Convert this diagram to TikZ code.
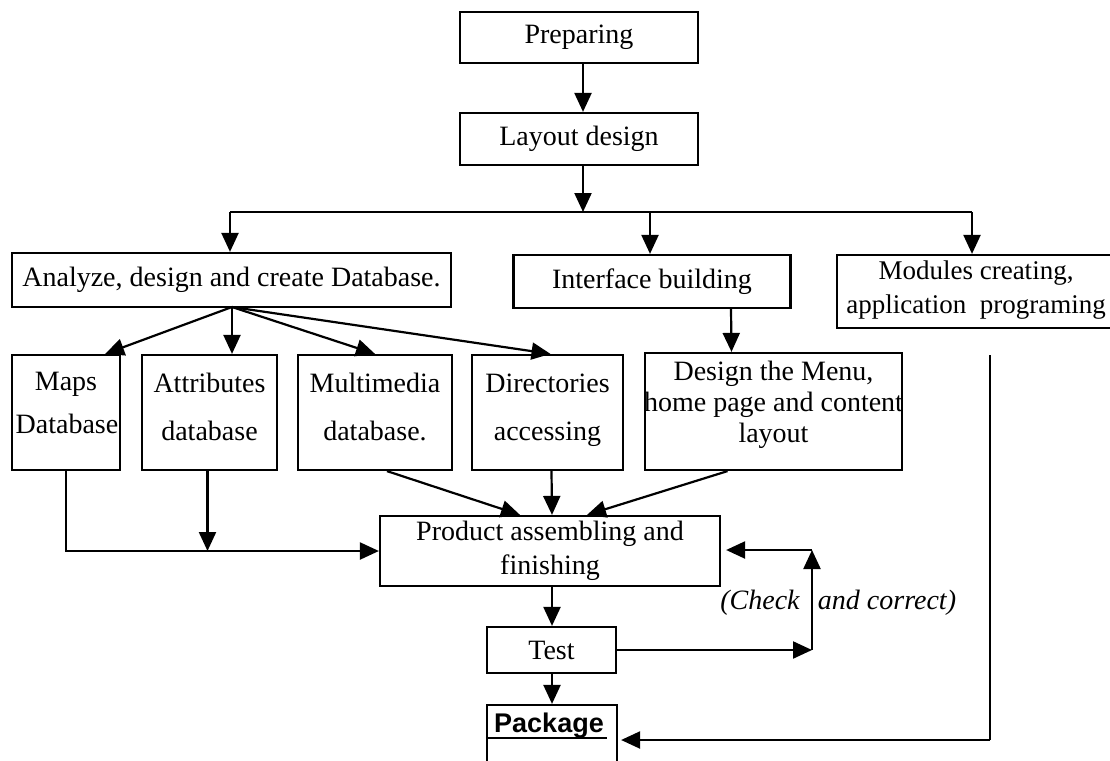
\documentclass[tikz,border=0pt]{standalone}
\usepackage{fontspec}
\setmainfont{Liberation Serif}
\newfontfamily\pkgfont{Liberation Sans}
\usetikzlibrary{arrows.meta}
\newcommand\fz{\fontsize{28}{34}\selectfont}
\tikzset{
  box/.style={draw, line width=2.2pt, inner sep=0pt, font=\fz},
  txt/.style={inner sep=0pt, font=\fz},
  arr/.style={line width=2.2pt, -{Triangle[length=19pt,width=17pt]}},
  ln/.style={line width=2.2pt},
}
\begin{document}
\begin{tikzpicture}[x=1pt,y=-1pt]
\useasboundingbox (0,0) rectangle (1110,760);
% top
\node[box, minimum width=238, minimum height=51] (prep) at (579,37.5) {Preparing};
\node[box, minimum width=238, minimum height=52] (layout) at (579,139) {Layout design};
% second row
\node[box, minimum width=439, minimum height=54] (analyze) at (231.5,280) {Analyze, design and create Database.};
\node[box, minimum width=277, minimum height=53] (iface) at (652,281.5) {Interface building};
\node[box, minimum width=284, minimum height=73] (mod) at (979,291.5) {};
\node[txt, font=\fontsize{27}{34}\selectfont, align=center] (modT) at (976,290) {Modules creating,\\application\ \ programing};
% third row
\node[box, minimum width=108, minimum height=115] (maps) at (66,412.5) {};
\node[box, minimum width=135, minimum height=115] (attr) at (209.5,412.5) {};
\node[box, minimum width=154, minimum height=115] (mm) at (375,412.5) {};
\node[box, minimum width=151, minimum height=115] (dir) at (547.5,412.5) {};
\node[box, minimum width=257, minimum height=117] (design) at (773.5,411.5) {};
\node[txt, anchor=base] (mapsA) at (66,390) {Maps};
\node[txt, anchor=base] (mapsB) at (67,433) {Database};
\node[txt, anchor=base] (attrA) at (209.5,392) {Attributes};
\node[txt, anchor=base] (attrB) at (209.5,440) {database};
\node[txt, anchor=base] (mmA) at (375,392) {Multimedia};
\node[txt, anchor=base] (mmB) at (375,440) {database.};
\node[txt, anchor=base] (dirA) at (547.5,392) {Directories};
\node[txt, anchor=base] (dirB) at (547.5,440) {accessing};
\node[txt, anchor=base] (desA) at (773.5,380) {Design the Menu,};
\node[txt, anchor=base] (desB) at (773.5,411) {home page and content};
\node[txt, anchor=base] (desC) at (773.5,442) {layout};
% lower part
\node[box, minimum width=340, minimum height=70, align=center] (prod) at (550,551) {Product assembling and\\finishing};
\node[box, minimum width=129, minimum height=46] (test) at (551.5,650) {Test};
\node[box, minimum width=130, minimum height=70] (pkg) at (552,740) {};
\node[inner sep=0pt, anchor=base, font=\pkgfont\bfseries\fontsize{27}{30}\selectfont] (pkgT) at (549,732) {Package};
\draw[line width=1.8pt] (pkg.west |- pkgT.base) ++(0,6) -- ++(121,0);
\node[txt, font=\fz\itshape] (chk) at (760,603) {(Check};
\node[txt, font=\fz\itshape] (cor) at (887,603) {and correct)};
% coordinates
\coordinate (busL) at (230,212);
\coordinate (busM) at (583,212);
\coordinate (busI) at (650,212);
\coordinate (busR) at (972,212);
\coordinate (aS) at (232,307);
\coordinate (lp) at (812,650);
\coordinate (lt) at (812,550);
\coordinate (ls) at (990,355);
\coordinate (lb) at (990,740);
% connectors
\draw[arr] ([xshift=4]prep.south) -- ([xshift=4]layout.north);
\draw[arr] ([xshift=4]layout.south) -- (busM);
\draw[ln] (busL) -- (busR);
\draw[arr] (busL) -- (busL |- analyze.north);
\draw[arr] (busI) -- (busI |- iface.north);
\draw[arr] (busR) -- (busR |- mod.north);
\draw[arr] (aS) -- ([xshift=-16]maps.north east);
\draw[arr] (aS) -- (aS |- attr.north);
\draw[arr] (aS) -- (mm.north);
\draw[arr] (aS) -- ([xshift=3]dir.north);
\draw[arr] ([xshift=79]iface.south) -- ([xshift=-42]design.north);
\draw[arr] ([xshift=12]mm.south) -- ([xshift=-30]prod.north);
\draw[arr] ([xshift=4]dir.south) -- ([xshift=2]prod.north);
\draw[arr] ([xshift=-46]design.south) -- ([xshift=37]prod.north);
\draw[arr] (maps.south) |- (prod.west);
\draw[arr] ([xshift=-2]attr.south) -- ([xshift=-2]attr.south |- prod.west);
\draw[arr] ([xshift=2]prod.south) -- ([xshift=0.5]test.north);
\draw[arr] (test.east) -- (lp);
\draw[arr] (lp) -- (lt);
\draw[arr] (lt) -- ([xshift=5]prod.east |- lt);
\draw[arr] ([xshift=0.5]test.south) -- (pkg.north);
\draw[ln] (ls) -- (lb);
\draw[arr] (lb) -- ([xshift=3]pkg.east |- lb);
\end{tikzpicture}
\end{document}
